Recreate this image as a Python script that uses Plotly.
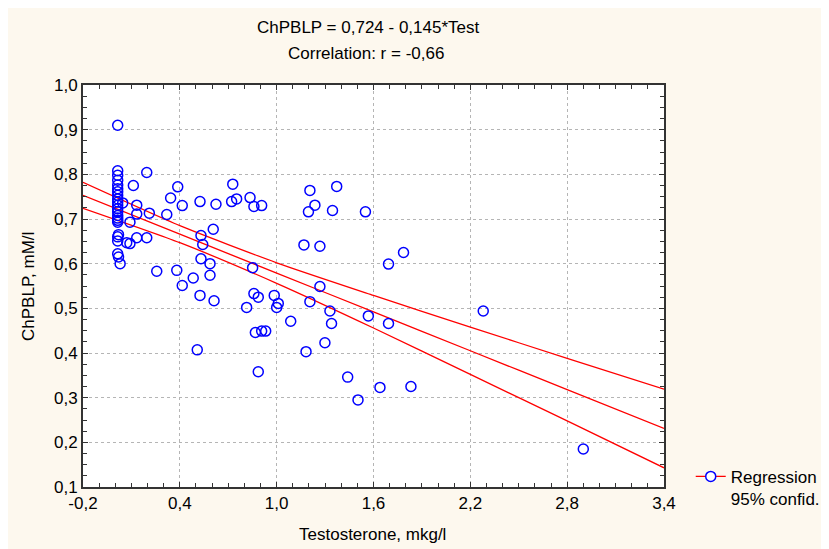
import plotly.graph_objects as go

# ---- data ----
test_x = [0.015, 0.015, 0.015, 0.015, 0.015, 0.015, 0.015, 0.015, 0.015, 0.015,
          0.015, 0.015, 0.015, 0.015, 0.015, 0.015, 0.015, 0.02, 0.015, 0.015,
          0.015, 0.02, 0.03,
          0.046, 0.112, 0.195, 0.133, 0.133, 0.091, 0.071, 0.091, 0.133, 0.195,
          0.211, 0.319, 0.343, 0.387, 0.415, 0.525, 0.624, 0.607, 0.721, 0.728,
          0.752, 0.835, 0.859, 0.907,
          0.257, 0.381, 0.415, 0.483, 0.525, 0.508, 0.531, 0.542, 0.531, 0.587,
          0.587, 0.612, 0.851, 0.814, 0.859, 0.886, 0.985, 1.000, 1.010, 0.868,
          0.907, 0.932, 0.886,
          1.206, 1.372, 1.237, 1.197, 1.346, 1.550, 1.169, 1.268, 1.786, 1.693,
          1.268, 1.206, 1.330, 1.568, 1.340, 1.693, 1.087, 1.299, 1.182, 1.440,
          1.640, 1.832, 1.504, 2.280, 2.900]
chpblp_y = [0.910, 0.808, 0.798, 0.787, 0.776, 0.768, 0.761, 0.753, 0.745, 0.738,
            0.731, 0.723, 0.716, 0.708, 0.702, 0.697, 0.693, 0.665, 0.660, 0.651,
            0.622, 0.615, 0.600,
            0.736, 0.775, 0.804, 0.731, 0.711, 0.693, 0.647, 0.645, 0.658, 0.658,
            0.713, 0.710, 0.747, 0.772, 0.730, 0.739, 0.733, 0.677, 0.739, 0.778,
            0.745, 0.748, 0.728, 0.730,
            0.583, 0.585, 0.551, 0.568, 0.529, 0.407, 0.663, 0.643, 0.611, 0.600,
            0.574, 0.517, 0.591, 0.502, 0.533, 0.525, 0.529, 0.502, 0.511, 0.446,
            0.449, 0.449, 0.358,
            0.764, 0.773, 0.731, 0.716, 0.719, 0.716, 0.642, 0.639, 0.625, 0.599,
            0.549, 0.515, 0.494, 0.483, 0.466, 0.466, 0.471, 0.423, 0.403, 0.346,
            0.323, 0.325, 0.295, 0.494, 0.185]

band_x = [-0.2, 0.4, 1.0, 1.6, 2.2, 2.8, 3.4]
reg_y = [0.753, 0.666, 0.579, 0.492, 0.405, 0.318, 0.231]
upper_y = [0.782, 0.685, 0.602, 0.529, 0.458, 0.388, 0.319]
lower_y = [0.724, 0.647, 0.556, 0.456, 0.352, 0.248, 0.143]

x_ticks = [-0.2, 0.4, 1.0, 1.6, 2.2, 2.8, 3.4]
x_ticktext = ["-0,2", "0,4", "1,0", "1,6", "2,2", "2,8", "3,4"]
y_ticks = [0.1, 0.2, 0.3, 0.4, 0.5, 0.6, 0.7, 0.8, 0.9, 1.0]
y_ticktext = ["0,1", "0,2", "0,3", "0,4", "0,5", "0,6", "0,7", "0,8", "0,9", "1,0"]

title1 = "ChPBLP = 0,724 - 0,145*Test"
title2 = "Correlation: r = -0,66"
x_title = "Testosterone, mkg/l"
y_title = "ChPBLP, mM/l"
legend_text = "Regression<br>95% confid."

FONT = "Liberation Sans, Arial, sans-serif"
RED = "#ff0000"
BLUE = "#0000ff"
CREAM = "#fdf8ee"

fig = go.Figure()
for ys in (upper_y, reg_y, lower_y):
    fig.add_trace(go.Scatter(x=band_x, y=ys, mode="lines",
                             line=dict(color=RED, width=1.3, shape="spline", smoothing=0.6),
                             showlegend=False, hoverinfo="skip"))
fig.add_trace(go.Scatter(x=test_x, y=chpblp_y, mode="markers",
                         marker=dict(symbol="circle-open", size=10, color=BLUE,
                                     line=dict(width=1.5, color=BLUE)),
                         showlegend=False))
# legend entry
fig.add_trace(go.Scatter(x=[None], y=[None], mode="lines+markers", name=legend_text,
                         line=dict(color=RED, width=1.3),
                         marker=dict(symbol="circle", size=10, color="white",
                                     line=dict(width=1.5, color=BLUE))))

axis_common = dict(showline=True, linecolor="#333333", linewidth=2, mirror="ticks",
                   ticks="inside", ticklen=5, tickwidth=1, tickcolor="#333333",
                   showgrid=True, gridcolor="#b5b5b5", griddash="dot", gridwidth=1,
                   zeroline=False, tickfont=dict(family=FONT, size=17, color="black"))

fig.update_xaxes(range=[-0.2, 3.4], tickmode="array", tickvals=x_ticks, ticktext=x_ticktext,
                 minor=dict(tickmode="linear", tick0=0, dtick=0.1, ticks="inside",
                            ticklen=4, tickcolor="#333333", showgrid=False),
                 **axis_common)
fig.update_yaxes(range=[0.1, 1.0], tickmode="array", tickvals=y_ticks, ticktext=y_ticktext,
                 minor=dict(tickmode="linear", tick0=0, dtick=0.025, ticks="inside",
                            ticklen=4, tickcolor="#333333", showgrid=False),
                 **axis_common)

ann_font = dict(family=FONT, size=17, color="black")
fig.update_layout(
    width=829, height=549,
    margin=dict(l=75, r=173, t=77, b=70, autoexpand=False),
    paper_bgcolor=CREAM, plot_bgcolor="white",
    font=dict(family=FONT, size=17, color="black"),
    showlegend=True,
    legend=dict(x=1.046, y=0.07, xanchor="left", yanchor="top", valign="top",
                bgcolor="rgba(0,0,0,0)", font=dict(family=FONT, size=17, color="black"),
                itemwidth=30, tracegroupgap=0),
    annotations=[
        dict(text=title1, x=0.492, y=1.1418, xref="paper", yref="paper",
             xanchor="center", yanchor="middle", showarrow=False, font=ann_font),
        dict(text=title2, x=0.487, y=1.0796, xref="paper", yref="paper",
             xanchor="center", yanchor="middle", showarrow=False, font=ann_font),
        dict(text=x_title, x=0.499, y=-0.1194, xref="paper", yref="paper",
             xanchor="center", yanchor="middle", showarrow=False, font=ann_font),
        dict(text=y_title, x=-0.0947, y=0.5, xref="paper", yref="paper", textangle=-90,
             xanchor="center", yanchor="middle", showarrow=False, font=ann_font),
    ],
)

fig.write_html("out.html")
